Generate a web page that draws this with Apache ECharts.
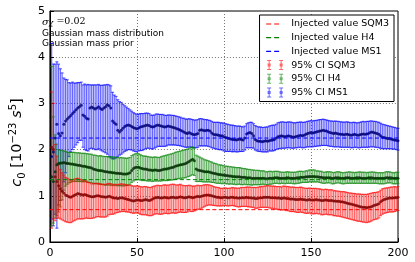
<!DOCTYPE html>
<html>
<head>
<meta charset="utf-8">
<script src="https://cdn.jsdelivr.net/npm/echarts@6/dist/echarts.min.js"></script>
<style>
  html, body { margin: 0; padding: 0; background: #fff; }
  #chart { width: 415px; height: 262px; }
</style>
</head>
<body>
<div id="chart"></div>
<script>
// sample index along the x axis (1..200)
const steps = Array.from({ length: 200 }, (_, i) => i + 1)

const injectedSQM3 = 0.7
const injectedH4 = 1.35
const injectedMS1 = 2.25

// MS1 (blue)
const centreMS1 = [
  1.85, 1.95, 2.25, 2.55, 2.35, 2.3, 2.36, 2.55, 2.62, 2.66,
  2.7, 2.74, 2.78, 2.82, 2.86, 2.9, 2.93, 2.96, 2.75, 2.72,
  2.68, 2.66, 2.9, 2.92, 2.9, 2.88, 2.9, 2.93, 2.89, 2.87,
  2.9, 2.93, 2.97, 2.95, 2.9, 2.62, 2.58, 2.55, 2.42, 2.38,
  2.42, 2.46, 2.5, 2.52, 2.53, 2.52, 2.5, 2.48, 2.46, 2.45,
  2.47, 2.49, 2.5, 2.51, 2.52, 2.53, 2.52, 2.5, 2.49, 2.5,
  2.52, 2.53, 2.52, 2.51, 2.5, 2.49, 2.5, 2.51, 2.5, 2.49,
  2.48, 2.47, 2.45, 2.44, 2.42, 2.4, 2.38, 2.36, 2.35, 2.37,
  2.35, 2.33, 2.32, 2.33, 2.35, 2.42, 2.43, 2.42, 2.41, 2.42,
  2.42, 2.4, 2.36, 2.33, 2.32, 2.32, 2.31, 2.3, 2.3, 2.28,
  2.26, 2.25, 2.24, 2.23, 2.22, 2.22, 2.21, 2.22, 2.23, 2.22,
  2.21, 2.25, 2.34, 2.36, 2.37, 2.35, 2.3, 2.22, 2.19, 2.18,
  2.18, 2.17, 2.18, 2.19, 2.18, 2.19, 2.2, 2.21, 2.22, 2.25,
  2.28, 2.29, 2.3, 2.29, 2.28, 2.29, 2.3, 2.29, 2.28, 2.27,
  2.28, 2.29, 2.3, 2.31, 2.3, 2.31, 2.33, 2.35, 2.36, 2.37,
  2.36, 2.37, 2.38, 2.39, 2.4, 2.41, 2.42, 2.41, 2.4, 2.38,
  2.37, 2.36, 2.35, 2.36, 2.35, 2.34, 2.33, 2.33, 2.32, 2.33,
  2.33, 2.32, 2.31, 2.32, 2.33, 2.32, 2.31, 2.32, 2.33, 2.34,
  2.33, 2.34, 2.35, 2.37, 2.38, 2.37, 2.36, 2.35, 2.33, 2.3,
  2.27, 2.26, 2.25, 2.24, 2.24, 2.23, 2.22, 2.21, 2.2, 2.19
]
const errLoMS1 = [
  1.35, 1.6, 1.65, 2.25, 1.55, 1.4, 1.26, 1.25, 1.12, 0.96,
  0.85, 0.79, 0.78, 0.77, 0.76, 0.75, 0.73, 0.76, 0.7, 0.72,
  0.7, 0.69, 0.88, 0.89, 0.88, 0.88, 0.9, 0.91, 0.9, 0.9,
  0.95, 1.0, 1.07, 1.1, 1.08, 0.82, 0.78, 0.73, 0.57, 0.5,
  0.52, 0.53, 0.54, 0.54, 0.53, 0.52, 0.51, 0.51, 0.5, 0.5,
  0.5, 0.51, 0.52, 0.51, 0.5, 0.5, 0.49, 0.48, 0.48, 0.47,
  0.47, 0.46, 0.45, 0.44, 0.43, 0.42, 0.42, 0.41, 0.4, 0.39,
  0.38, 0.37, 0.36, 0.35, 0.34, 0.33, 0.32, 0.31, 0.3, 0.31,
  0.3, 0.29, 0.28, 0.29, 0.3, 0.34, 0.35, 0.34, 0.33, 0.34,
  0.35, 0.34, 0.32, 0.3, 0.3, 0.31, 0.31, 0.3, 0.31, 0.31,
  0.3, 0.29, 0.28, 0.27, 0.27, 0.26, 0.26, 0.27, 0.27, 0.26,
  0.25, 0.26, 0.3, 0.32, 0.33, 0.31, 0.27, 0.23, 0.22, 0.22,
  0.22, 0.22, 0.23, 0.24, 0.23, 0.22, 0.23, 0.24, 0.24, 0.25,
  0.26, 0.27, 0.27, 0.26, 0.25, 0.25, 0.26, 0.25, 0.25, 0.24,
  0.24, 0.25, 0.25, 0.26, 0.26, 0.27, 0.28, 0.29, 0.3, 0.31,
  0.3, 0.3, 0.31, 0.31, 0.32, 0.32, 0.33, 0.32, 0.31, 0.3,
  0.3, 0.29, 0.29, 0.3, 0.29, 0.28, 0.28, 0.28, 0.27, 0.28,
  0.28, 0.27, 0.27, 0.28, 0.28, 0.27, 0.27, 0.28, 0.28, 0.29,
  0.28, 0.29, 0.3, 0.31, 0.32, 0.31, 0.31, 0.3, 0.29, 0.27,
  0.25, 0.24, 0.23, 0.22, 0.22, 0.21, 0.21, 0.2, 0.2, 0.2
]
const errHiMS1 = [
  2.45, 1.9, 1.6, 1.35, 1.5, 1.45, 1.3, 1.0, 0.9, 0.85,
  0.75, 0.7, 0.68, 0.62, 0.58, 0.55, 0.52, 0.5, 0.65, 0.7,
  0.72, 0.75, 0.5, 0.48, 0.5, 0.52, 0.5, 0.48, 0.5, 0.52,
  0.5, 0.47, 0.44, 0.45, 0.48, 0.62, 0.6, 0.6, 0.66, 0.66,
  0.6, 0.52, 0.45, 0.4, 0.36, 0.34, 0.33, 0.32, 0.32, 0.31,
  0.3, 0.29, 0.28, 0.27, 0.27, 0.26, 0.26, 0.25, 0.25, 0.25,
  0.25, 0.24, 0.24, 0.25, 0.26, 0.25, 0.24, 0.24, 0.25, 0.25,
  0.26, 0.26, 0.27, 0.27, 0.28, 0.28, 0.3, 0.3, 0.31, 0.3,
  0.31, 0.32, 0.32, 0.31, 0.3, 0.25, 0.24, 0.24, 0.24, 0.23,
  0.22, 0.23, 0.25, 0.26, 0.27, 0.27, 0.28, 0.28, 0.28, 0.29,
  0.3, 0.3, 0.3, 0.3, 0.31, 0.3, 0.3, 0.29, 0.28, 0.28,
  0.28, 0.26, 0.22, 0.22, 0.22, 0.24, 0.26, 0.3, 0.31, 0.31,
  0.31, 0.31, 0.3, 0.3, 0.31, 0.32, 0.32, 0.32, 0.31, 0.3,
  0.3, 0.3, 0.3, 0.31, 0.31, 0.3, 0.3, 0.31, 0.31, 0.31,
  0.3, 0.3, 0.29, 0.29, 0.29, 0.28, 0.27, 0.26, 0.26, 0.26,
  0.26, 0.26, 0.25, 0.25, 0.25, 0.24, 0.24, 0.24, 0.24, 0.25,
  0.25, 0.26, 0.26, 0.26, 0.26, 0.27, 0.27, 0.27, 0.27, 0.27,
  0.27, 0.27, 0.27, 0.27, 0.26, 0.26, 0.27, 0.27, 0.27, 0.27,
  0.27, 0.27, 0.26, 0.25, 0.24, 0.24, 0.25, 0.25, 0.26, 0.27,
  0.28, 0.28, 0.28, 0.28, 0.27, 0.27, 0.27, 0.27, 0.27, 0.27
]

// H4 (green)
const centreH4 = [
  1.41, 1.31, 1.52, 1.67, 1.7, 1.71, 1.71, 1.72, 1.71, 1.7,
  1.7, 1.69, 1.69, 1.68, 1.67, 1.66, 1.66, 1.65, 1.64, 1.64,
  1.63, 1.62, 1.61, 1.6, 1.58, 1.57, 1.56, 1.55, 1.55, 1.54,
  1.53, 1.52, 1.52, 1.51, 1.51, 1.5, 1.5, 1.49, 1.49, 1.48,
  1.48, 1.47, 1.47, 1.47, 1.48, 1.5, 1.55, 1.59, 1.61, 1.62,
  1.62, 1.6, 1.59, 1.58, 1.58, 1.57, 1.56, 1.56, 1.55, 1.56,
  1.56, 1.55, 1.55, 1.56, 1.57, 1.58, 1.58, 1.59, 1.6, 1.61,
  1.62, 1.64, 1.65, 1.66, 1.67, 1.68, 1.69, 1.7, 1.72, 1.74,
  1.77, 1.79, 1.76, 1.58, 1.56, 1.55, 1.54, 1.53, 1.52, 1.52,
  1.52, 1.51, 1.5, 1.49, 1.48, 1.47, 1.46, 1.46, 1.45, 1.45,
  1.44, 1.44, 1.43, 1.43, 1.42, 1.42, 1.41, 1.41, 1.41, 1.4,
  1.4, 1.4, 1.39, 1.39, 1.39, 1.38, 1.38, 1.38, 1.38, 1.38,
  1.38, 1.38, 1.38, 1.37, 1.37, 1.38, 1.38, 1.38, 1.39, 1.39,
  1.39, 1.38, 1.38, 1.38, 1.38, 1.39, 1.39, 1.38, 1.38, 1.38,
  1.38, 1.39, 1.39, 1.4, 1.4, 1.4, 1.41, 1.41, 1.42, 1.42,
  1.42, 1.42, 1.41, 1.41, 1.4, 1.4, 1.39, 1.39, 1.39, 1.39,
  1.39, 1.38, 1.38, 1.39, 1.39, 1.39, 1.38, 1.38, 1.38, 1.39,
  1.39, 1.39, 1.38, 1.38, 1.38, 1.39, 1.39, 1.39, 1.38, 1.38,
  1.38, 1.38, 1.39, 1.39, 1.39, 1.38, 1.38, 1.38, 1.38, 1.38,
  1.38, 1.38, 1.39, 1.39, 1.39, 1.39, 1.38, 1.38, 1.38, 1.38
]
const errLoH4 = [
  1.06, 0.9, 1.0, 1.1, 1.05, 0.95, 0.8, 0.6, 0.5, 0.45,
  0.42, 0.4, 0.38, 0.37, 0.36, 0.35, 0.35, 0.34, 0.34, 0.33,
  0.33, 0.33, 0.32, 0.32, 0.31, 0.31, 0.3, 0.3, 0.3, 0.3,
  0.29, 0.29, 0.28, 0.28, 0.28, 0.28, 0.27, 0.27, 0.27, 0.26,
  0.26, 0.26, 0.25, 0.25, 0.25, 0.25, 0.26, 0.27, 0.27, 0.27,
  0.27, 0.26, 0.26, 0.25, 0.25, 0.25, 0.24, 0.24, 0.24, 0.24,
  0.24, 0.23, 0.23, 0.24, 0.24, 0.25, 0.25, 0.26, 0.26, 0.27,
  0.27, 0.28, 0.28, 0.29, 0.29, 0.3, 0.3, 0.31, 0.31, 0.32,
  0.33, 0.33, 0.32, 0.27, 0.25, 0.24, 0.23, 0.23, 0.22, 0.22,
  0.22, 0.21, 0.21, 0.2, 0.2, 0.2, 0.19, 0.19, 0.19, 0.18,
  0.18, 0.18, 0.18, 0.17, 0.17, 0.17, 0.17, 0.16, 0.16, 0.16,
  0.16, 0.15, 0.15, 0.15, 0.15, 0.15, 0.14, 0.14, 0.14, 0.14,
  0.14, 0.13, 0.13, 0.13, 0.13, 0.13, 0.13, 0.12, 0.12, 0.12,
  0.12, 0.12, 0.11, 0.11, 0.12, 0.12, 0.12, 0.11, 0.11, 0.12,
  0.12, 0.12, 0.12, 0.12, 0.11, 0.11, 0.12, 0.12, 0.12, 0.12,
  0.12, 0.12, 0.11, 0.11, 0.11, 0.12, 0.12, 0.12, 0.11, 0.11,
  0.11, 0.12, 0.12, 0.12, 0.11, 0.11, 0.11, 0.12, 0.12, 0.12,
  0.12, 0.12, 0.11, 0.11, 0.11, 0.12, 0.12, 0.12, 0.11, 0.11,
  0.11, 0.11, 0.12, 0.12, 0.12, 0.11, 0.11, 0.11, 0.12, 0.12,
  0.12, 0.12, 0.12, 0.11, 0.11, 0.11, 0.12, 0.12, 0.12, 0.12
]
const errHiH4 = [
  2.39, 1.4, 0.8, 0.45, 0.3, 0.28, 0.27, 0.25, 0.25, 0.24,
  0.24, 0.25, 0.25, 0.26, 0.26, 0.27, 0.27, 0.27, 0.28, 0.28,
  0.28, 0.29, 0.29, 0.3, 0.3, 0.31, 0.31, 0.31, 0.32, 0.32,
  0.32, 0.33, 0.33, 0.33, 0.34, 0.34, 0.34, 0.34, 0.34, 0.34,
  0.35, 0.35, 0.35, 0.34, 0.34, 0.33, 0.32, 0.3, 0.3, 0.29,
  0.29, 0.29, 0.28, 0.28, 0.28, 0.28, 0.28, 0.28, 0.28, 0.28,
  0.28, 0.28, 0.28, 0.29, 0.29, 0.29, 0.3, 0.3, 0.3, 0.3,
  0.3, 0.3, 0.3, 0.3, 0.3, 0.3, 0.3, 0.3, 0.29, 0.29,
  0.28, 0.27, 0.28, 0.3, 0.3, 0.29, 0.28, 0.27, 0.26, 0.25,
  0.24, 0.23, 0.23, 0.22, 0.22, 0.22, 0.21, 0.21, 0.21, 0.2,
  0.2, 0.2, 0.2, 0.2, 0.2, 0.2, 0.2, 0.2, 0.2, 0.2,
  0.19, 0.19, 0.19, 0.18, 0.18, 0.18, 0.18, 0.17, 0.17, 0.17,
  0.16, 0.16, 0.16, 0.15, 0.15, 0.15, 0.15, 0.14, 0.14, 0.14,
  0.14, 0.14, 0.13, 0.13, 0.13, 0.13, 0.13, 0.13, 0.13, 0.13,
  0.13, 0.13, 0.14, 0.13, 0.13, 0.12, 0.13, 0.13, 0.14, 0.14,
  0.14, 0.14, 0.13, 0.13, 0.13, 0.13, 0.12, 0.12, 0.13, 0.13,
  0.13, 0.13, 0.12, 0.12, 0.13, 0.13, 0.13, 0.12, 0.12, 0.12,
  0.12, 0.13, 0.13, 0.13, 0.12, 0.12, 0.12, 0.13, 0.13, 0.13,
  0.13, 0.12, 0.12, 0.12, 0.13, 0.13, 0.13, 0.12, 0.12, 0.12,
  0.12, 0.12, 0.13, 0.13, 0.13, 0.12, 0.12, 0.12, 0.13, 0.13
]

// SQM3 (red)
const centreSQM3 = [
  2.05, 2.0, 1.41, 1.31, 1.22, 1.15, 1.1, 1.06, 1.02, 1.0,
  0.98, 0.97, 0.99, 1.01, 1.03, 1.05, 1.04, 1.03, 1.02, 1.03,
  1.02, 1.0, 0.99, 0.98, 0.98, 0.99, 1.0, 1.0, 0.99, 0.98,
  0.98, 0.97, 0.98, 0.99, 0.98, 0.96, 0.95, 0.95, 0.94, 0.95,
  0.96, 0.95, 0.94, 0.93, 0.92, 0.91, 0.9, 0.89, 0.9, 0.91,
  0.91, 0.9, 0.9, 0.91, 0.92, 0.91, 0.9, 0.91, 0.93, 0.95,
  0.96, 0.97, 0.96, 0.95, 0.96, 0.97, 0.96, 0.95, 0.96, 0.97,
  0.97, 0.96, 0.96, 0.97, 0.98, 0.97, 0.96, 0.96, 0.97, 0.98,
  0.97, 0.96, 0.97, 0.98, 0.99, 0.98, 0.99, 1.0, 1.01, 1.02,
  1.02, 1.01, 1.0, 0.99, 0.98, 0.97, 0.97, 0.96, 0.96, 0.97,
  0.97, 0.96, 0.96, 0.97, 0.97, 0.96, 0.96, 0.95, 0.95, 0.96,
  0.96, 0.96, 0.97, 0.96, 0.96, 0.95, 0.95, 0.94, 0.94, 0.95,
  0.96, 0.96, 0.97, 0.97, 0.97, 0.97, 0.96, 0.96, 0.96, 0.95,
  0.95, 0.95, 0.94, 0.95, 0.95, 0.94, 0.94, 0.93, 0.93, 0.93,
  0.92, 0.92, 0.92, 0.93, 0.92, 0.92, 0.91, 0.91, 0.92, 0.91,
  0.91, 0.91, 0.92, 0.91, 0.91, 0.9, 0.9, 0.91, 0.91, 0.9,
  0.9, 0.9, 0.89, 0.89, 0.88, 0.88, 0.87, 0.87, 0.86, 0.85,
  0.84, 0.83, 0.82, 0.81, 0.8, 0.79, 0.78, 0.77, 0.76, 0.75,
  0.75, 0.74, 0.75, 0.76, 0.77, 0.79, 0.8, 0.81, 0.83, 0.87,
  0.9, 0.92, 0.93, 0.94, 0.95, 0.95, 0.95, 0.96, 0.96, 0.97
]
const errLoSQM3 = [
  1.75, 1.5, 0.95, 0.8, 0.7, 0.65, 0.62, 0.6, 0.58, 0.57,
  0.56, 0.55, 0.55, 0.55, 0.55, 0.55, 0.54, 0.53, 0.52, 0.52,
  0.5, 0.49, 0.48, 0.47, 0.46, 0.46, 0.45, 0.45, 0.45, 0.44,
  0.44, 0.43, 0.42, 0.4, 0.38, 0.36, 0.34, 0.32, 0.3, 0.3,
  0.3, 0.29, 0.28, 0.28, 0.27, 0.27, 0.27, 0.27, 0.27, 0.28,
  0.29, 0.3, 0.31, 0.32, 0.33, 0.33, 0.33, 0.34, 0.35, 0.35,
  0.35, 0.36, 0.36, 0.35, 0.35, 0.35, 0.34, 0.34, 0.34, 0.34,
  0.34, 0.34, 0.33, 0.33, 0.33, 0.33, 0.32, 0.32, 0.32, 0.31,
  0.31, 0.3, 0.3, 0.29, 0.28, 0.27, 0.26, 0.25, 0.24, 0.23,
  0.22, 0.21, 0.2, 0.2, 0.19, 0.19, 0.19, 0.18, 0.18, 0.18,
  0.18, 0.18, 0.18, 0.18, 0.18, 0.18, 0.19, 0.19, 0.19, 0.19,
  0.19, 0.19, 0.2, 0.2, 0.2, 0.2, 0.2, 0.21, 0.21, 0.21,
  0.21, 0.21, 0.22, 0.22, 0.22, 0.23, 0.23, 0.23, 0.24, 0.24,
  0.24, 0.25, 0.25, 0.25, 0.26, 0.26, 0.26, 0.27, 0.27, 0.27,
  0.27, 0.28, 0.28, 0.28, 0.28, 0.29, 0.29, 0.29, 0.29, 0.3,
  0.3, 0.3, 0.3, 0.3, 0.3, 0.31, 0.31, 0.31, 0.31, 0.31,
  0.31, 0.31, 0.32, 0.32, 0.32, 0.32, 0.32, 0.33, 0.33, 0.33,
  0.33, 0.33, 0.33, 0.33, 0.33, 0.33, 0.33, 0.32, 0.32, 0.32,
  0.32, 0.32, 0.32, 0.32, 0.31, 0.31, 0.31, 0.31, 0.31, 0.3,
  0.3, 0.3, 0.3, 0.3, 0.3, 0.3, 0.3, 0.3, 0.29, 0.29
]
const errHiSQM3 = [
  1.2, 1.0, 0.7, 0.55, 0.45, 0.42, 0.4, 0.39, 0.38, 0.38,
  0.38, 0.37, 0.36, 0.35, 0.34, 0.33, 0.32, 0.32, 0.31, 0.3,
  0.3, 0.29, 0.29, 0.28, 0.28, 0.28, 0.27, 0.27, 0.27, 0.27,
  0.27, 0.27, 0.28, 0.28, 0.28, 0.29, 0.29, 0.3, 0.3, 0.3,
  0.3, 0.3, 0.31, 0.31, 0.31, 0.32, 0.32, 0.32, 0.31, 0.31,
  0.3, 0.3, 0.29, 0.29, 0.28, 0.28, 0.28, 0.27, 0.27, 0.26,
  0.26, 0.26, 0.26, 0.27, 0.27, 0.27, 0.27, 0.28, 0.28, 0.28,
  0.28, 0.28, 0.27, 0.27, 0.27, 0.26, 0.26, 0.26, 0.25, 0.25,
  0.25, 0.25, 0.24, 0.24, 0.24, 0.24, 0.23, 0.23, 0.23, 0.22,
  0.22, 0.22, 0.22, 0.21, 0.21, 0.21, 0.21, 0.2, 0.2, 0.2,
  0.2, 0.2, 0.2, 0.2, 0.21, 0.21, 0.21, 0.21, 0.22, 0.22,
  0.22, 0.22, 0.22, 0.23, 0.23, 0.23, 0.23, 0.24, 0.24, 0.24,
  0.24, 0.24, 0.24, 0.24, 0.25, 0.25, 0.25, 0.25, 0.25, 0.25,
  0.25, 0.25, 0.25, 0.26, 0.26, 0.26, 0.26, 0.26, 0.26, 0.26,
  0.26, 0.26, 0.26, 0.26, 0.26, 0.25, 0.25, 0.25, 0.25, 0.25,
  0.25, 0.25, 0.24, 0.24, 0.24, 0.24, 0.23, 0.23, 0.23, 0.23,
  0.23, 0.23, 0.22, 0.22, 0.22, 0.22, 0.22, 0.22, 0.23, 0.23,
  0.23, 0.23, 0.24, 0.24, 0.25, 0.25, 0.26, 0.27, 0.27, 0.28,
  0.28, 0.29, 0.29, 0.29, 0.29, 0.28, 0.27, 0.27, 0.26, 0.25,
  0.25, 0.24, 0.24, 0.23, 0.23, 0.24, 0.24, 0.24, 0.23, 0.23
]

const errorBarIcon = 'path://M4.5,0h1v10h-1z M3,0h4v1h-4z M3,9h4v1h-4z M3.5,3.5h3v3h-3z ' +
  'M16.5,0h1v10h-1z M15,0h4v1h-4z M15,9h4v1h-4z M15.5,3.5h3v3h-3z'

const errorBars = (name, centre, errLo, errHi, color) => ({
  name,
  type: 'custom',
  itemStyle: { color },
  data: steps.map((x, i) => [x, centre[i] - errLo[i], centre[i] + errHi[i]]),
  encode: { x: 0, y: [1, 2] },
  renderItem: (params, api) => {
    const lo = api.coord([api.value(0), api.value(1)])
    const hi = api.coord([api.value(0), api.value(2)])
    const style = { stroke: color, lineWidth: 1.2, fill: null }
    return {
      type: 'group',
      children: [
        { type: 'line', shape: { x1: lo[0], y1: lo[1], x2: hi[0], y2: hi[1] }, style },
        { type: 'line', shape: { x1: lo[0] - 1.5, y1: lo[1], x2: lo[0] + 1.5, y2: lo[1] }, style },
        { type: 'line', shape: { x1: hi[0] - 1.5, y1: hi[1], x2: hi[0] + 1.5, y2: hi[1] }, style },
      ],
    }
  },
})

const markers = (name, centre, color) => ({
  name,
  type: 'scatter',
  symbol: 'circle',
  symbolSize: 3,
  itemStyle: { color },
  data: steps.map((x, i) => [x, centre[i]]),
})

const injected = (name, value, color) => ({
  name,
  type: 'line',
  symbol: 'none',
  z: 5,
  lineStyle: { color, width: 1, type: [4, 2.5] },
  itemStyle: { color },
  data: [[0, value], [200, value]],
})

const dashedLegend = (name, color) => ({
  name,
  itemStyle: { opacity: 0 },
  lineStyle: { color, width: 1.2, type: [5, 3, 5, 60], dashOffset: -2 },
})

const chart = echarts.init(document.getElementById('chart'))

const tickFont = { color: '#000', fontSize: 11, fontFamily: 'DejaVu Sans' }

chart.setOption({
  animation: false,
  grid: { left: 36, right: 17, top: 11, bottom: 20, show: true, borderColor: '#000', borderWidth: 1 },
  xAxis: {
    type: 'value',
    min: 0,
    max: 200,
    interval: 50,
    axisLine: { lineStyle: { color: '#000', width: 1 } },
    axisTick: { inside: true, length: 4, lineStyle: { color: '#000' } },
    axisLabel: { ...tickFont, margin: 6 },
    splitLine: { lineStyle: { color: '#777', type: [1, 2] } },
  },
  yAxis: {
    type: 'value',
    min: 0,
    max: 5,
    interval: 1,
    name: '{i|c}{sub|0} [10{sup|−23} {i|s}{sup|5}]',
    nameLocation: 'middle',
    nameGap: 19,
    nameTextStyle: {
      color: '#000',
      fontSize: 14.5,
      fontFamily: 'DejaVu Sans',
      lineHeight: 19,
      padding: [0, 32, 0, 0],
      rich: {
        i: { fontStyle: 'italic', fontSize: 14.5, fontFamily: 'DejaVu Sans', lineHeight: 19 },
        sub: { fontSize: 10, fontFamily: 'DejaVu Sans', verticalAlign: 'bottom', lineHeight: 10 },
        sup: { fontSize: 10, fontFamily: 'DejaVu Sans', verticalAlign: 'top', lineHeight: 10 },
      },
    },
    axisLine: { lineStyle: { color: '#000', width: 1 } },
    axisTick: { inside: true, length: 4, lineStyle: { color: '#000' } },
    axisLabel: { ...tickFont, margin: 5 },
    splitLine: { lineStyle: { color: '#777', type: [1, 2] } },
  },
  legend: {
    right: 21,
    top: 15,
    orient: 'vertical',
    padding: [4, 5, 4, 4],
    itemGap: 3.7,
    itemWidth: 22,
    itemHeight: 10,
    borderColor: '#000',
    borderWidth: 1,
    backgroundColor: '#fff',
    textStyle: { color: '#000', fontSize: 9.5, fontFamily: 'DejaVu Sans' },
    data: [
      dashedLegend('Injected value SQM3', '#ff0000'),
      dashedLegend('Injected value H4', '#008000'),
      dashedLegend('Injected value MS1', '#0000ff'),
      { name: '95% CI SQM3', icon: errorBarIcon },
      { name: '95% CI H4', icon: errorBarIcon },
      { name: '95% CI MS1', icon: errorBarIcon },
    ],
  },
  graphic: [
    {
      type: 'text',
      left: 42,
      top: 17,
      style: {
        text: '{g|σ}{s|χ}{t| =0.02}',
        fill: '#000',
        rich: {
          g: { fontFamily: 'DejaVu Serif', fontStyle: 'italic', fontSize: 10, lineHeight: 11 },
          s: { fontFamily: 'DejaVu Serif', fontStyle: 'italic', fontSize: 7.5, verticalAlign: 'bottom', lineHeight: 7 },
          t: { fontFamily: 'DejaVu Serif', fontSize: 9.5, lineHeight: 11 },
        },
      },
    },
    {
      type: 'text',
      left: 42,
      top: 29,
      style: { text: 'Gaussian mass distribution', fill: '#000', fontSize: 9, fontFamily: 'DejaVu Sans' },
    },
    {
      type: 'text',
      left: 42,
      top: 39.5,
      style: { text: 'Gaussian mass prior', fill: '#000', fontSize: 9, fontFamily: 'DejaVu Sans' },
    },
  ],
  series: [
    errorBars('95% CI MS1', centreMS1, errLoMS1, errHiMS1, 'rgba(0,0,255,0.6)'),
    markers('95% CI MS1', centreMS1, '#00007a'),
    errorBars('95% CI H4', centreH4, errLoH4, errHiH4, 'rgba(0,128,0,0.6)'),
    markers('95% CI H4', centreH4, '#003000'),
    errorBars('95% CI SQM3', centreSQM3, errLoSQM3, errHiSQM3, 'rgba(255,0,0,0.6)'),
    markers('95% CI SQM3', centreSQM3, '#800000'),
    injected('Injected value SQM3', injectedSQM3, '#ff0000'),
    injected('Injected value H4', injectedH4, '#008000'),
    injected('Injected value MS1', injectedMS1, '#0000ff'),
  ],
})
</script>
</body>
</html>
